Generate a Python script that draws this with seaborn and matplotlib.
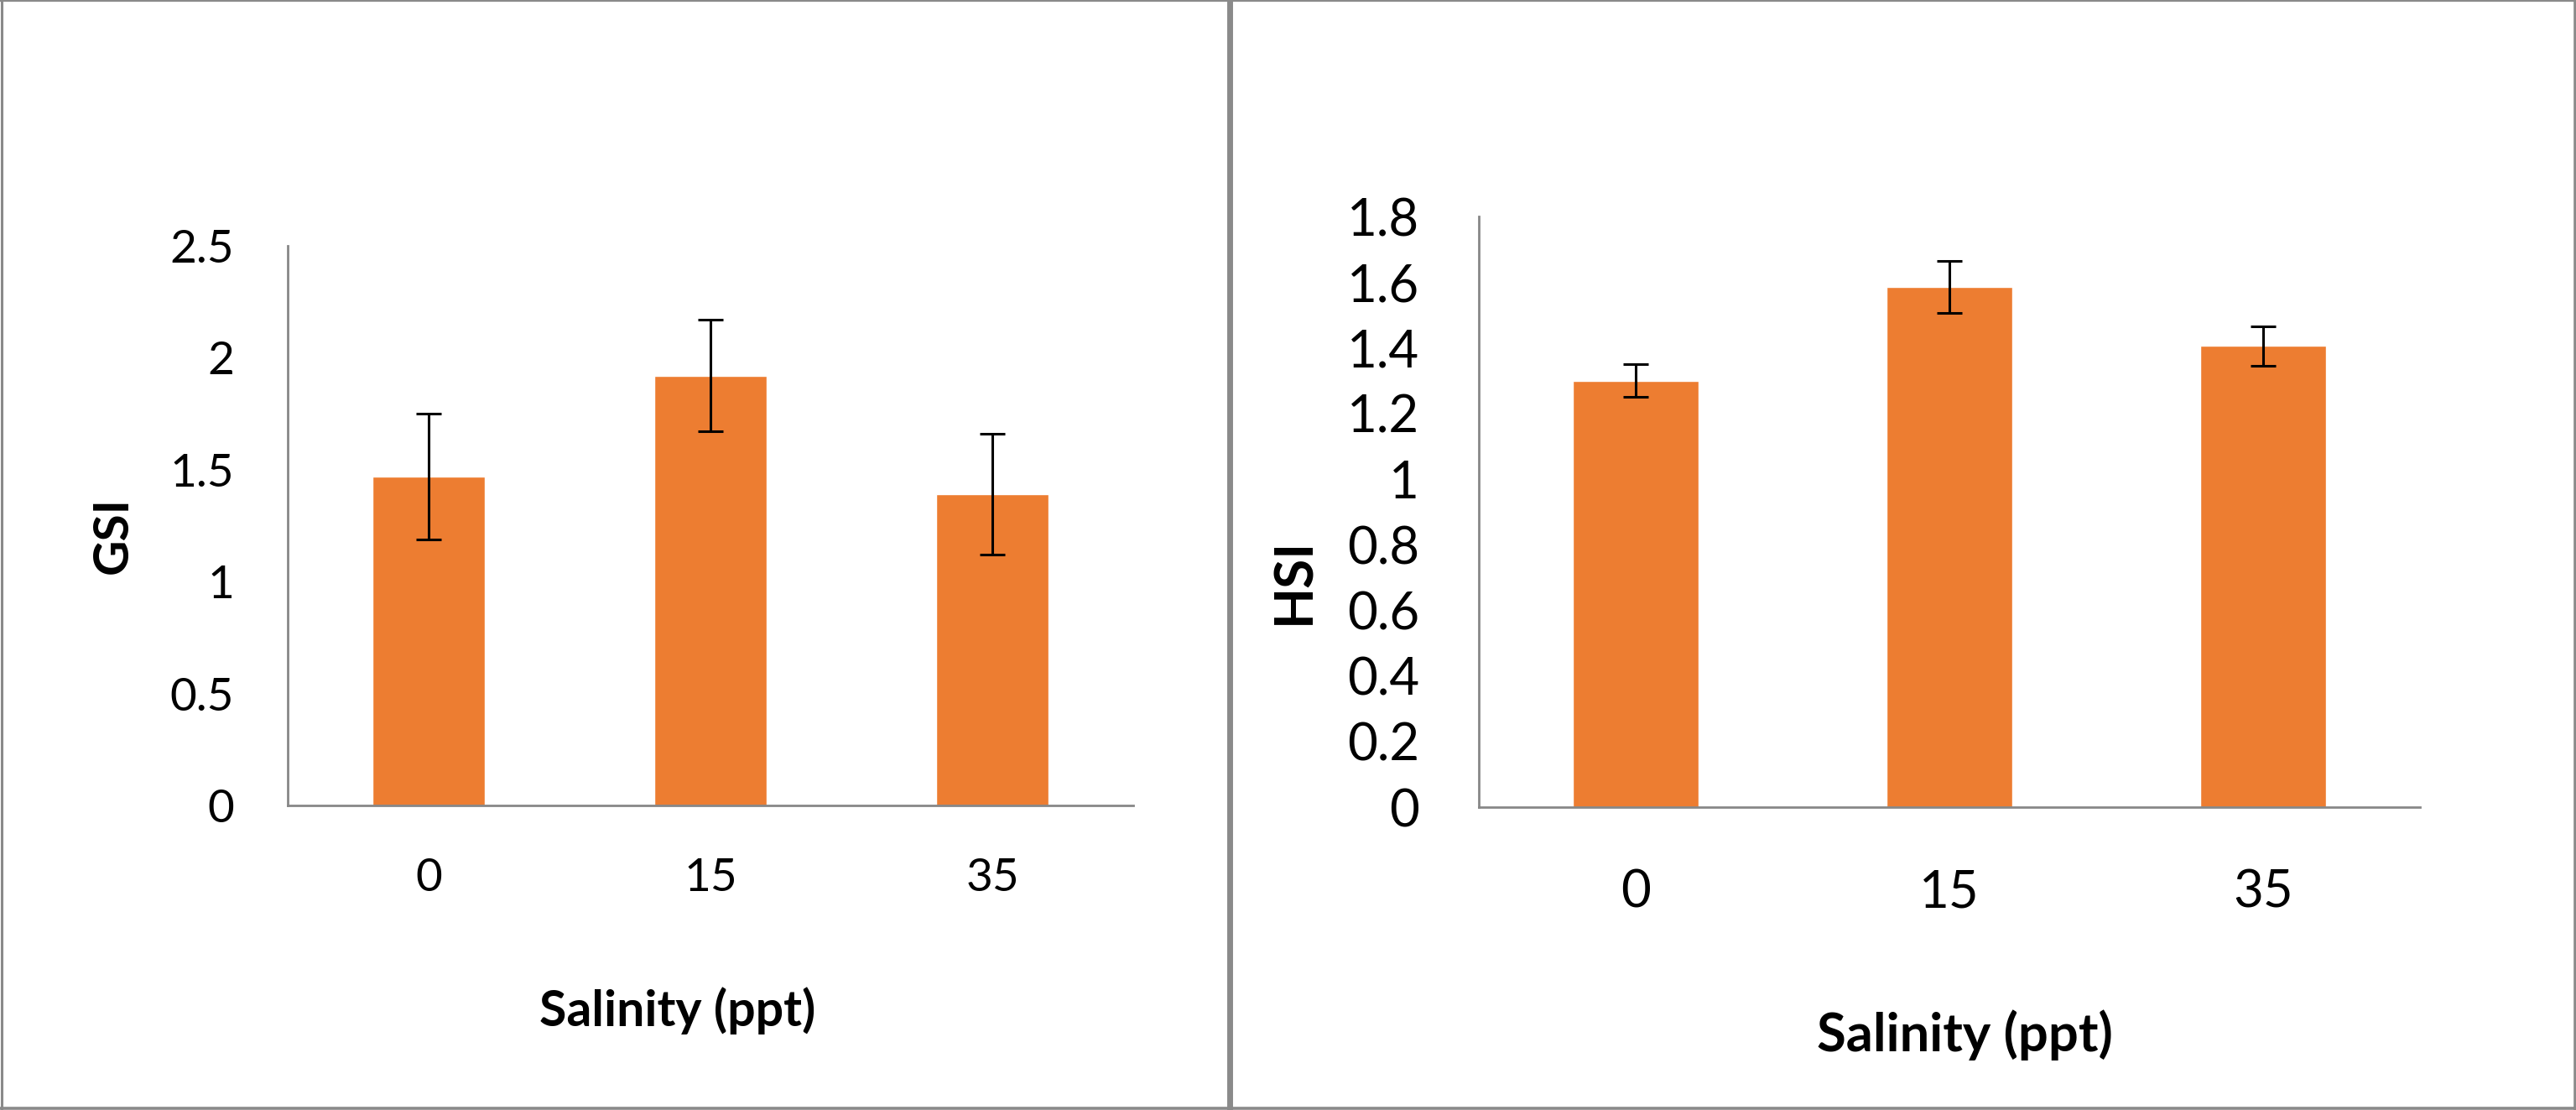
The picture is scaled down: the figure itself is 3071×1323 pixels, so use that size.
import numpy as np
import matplotlib
matplotlib.use("Agg")
import matplotlib.pyplot as plt
import seaborn as sns

# salinity groups and mean +/- error values
salinity = ["0", "15", "35"]
gsi = [1.47, 1.92, 1.39]
gsi_err = [0.28, 0.25, 0.27]
hsi = [1.30, 1.585, 1.405]
hsi_err = [0.05, 0.08, 0.06]

BAR_COLOR = "#ED7D31"
AXIS_GREY = "#878787"
FRAME_GREY = "#8a8a8a"

W, H = 3071, 1323


def fx(px):
    return px / W


def fy(py):
    return 1 - py / H


def draw_panel(ax, values, errors, ylabel, ymax, ystep, fs_tick, fs_label, fs_ylabel,
               ytick_pad, xtick_pad, tick_len, capsize, xlabel_pos, ylabel_pos):
    sns.barplot(x=salinity, y=values, order=salinity, color=BAR_COLOR, saturation=1,
                width=0.4, errorbar=None, ax=ax)
    ax.errorbar(np.arange(len(salinity)), values, yerr=errors, fmt="none",
                ecolor="black", elinewidth=2.2, capsize=capsize, capthick=2.2, zorder=3)

    ticks = np.round(np.arange(0, ymax + ystep / 2, ystep), 2)
    ax.set_xlim(-0.5, len(salinity) - 0.5)
    ax.set_ylim(0, ymax)
    ax.set_yticks(ticks)
    ax.set_yticklabels([f"{v:g}" for v in ticks])
    ax.set_xticks(np.arange(-0.5, len(salinity), 1.0), minor=True)

    for side in ["top", "right"]:
        ax.spines[side].set_visible(False)
    for side in ["left", "bottom"]:
        ax.spines[side].set_color(AXIS_GREY)
        ax.spines[side].set_linewidth(2.0)

    ax.tick_params(axis="y", which="major", direction="out", length=tick_len, width=2.0,
                   color=AXIS_GREY, labelcolor="black", labelsize=fs_tick, pad=ytick_pad)
    ax.tick_params(axis="x", which="major", length=0, labelcolor="black",
                   labelsize=fs_tick, pad=xtick_pad)
    ax.tick_params(axis="x", which="minor", direction="out", length=tick_len, width=2.0,
                   color=AXIS_GREY)

    ax.set_xlabel("Salinity (ppt)", fontsize=fs_label, fontweight="bold", color="black")
    ax.xaxis.set_label_coords(*xlabel_pos)
    ax.xaxis.label.set_va("baseline")
    ax.set_ylabel(ylabel, fontsize=fs_ylabel, fontweight="bold", color="black")
    ax.yaxis.set_label_coords(*ylabel_pos)
    ax.yaxis.label.set_va("center")
    ax.yaxis.label.set_ha("center")


sns.set_style("white")
plt.rcParams["font.family"] = ["Lato", "DejaVu Sans"]

fig = plt.figure(figsize=(W / 100, H / 100), dpi=100)

ax1 = fig.add_axes([fx(343), fy(960), fx(1351 - 343), (960 - 293) / H])
draw_panel(ax1, gsi, gsi_err, "GSI", 2.5, 0.5, 39.5, 42.5, 42,
           ytick_pad=31, xtick_pad=45, tick_len=15, capsize=11,
           xlabel_pos=(0.461, -0.394), ylabel_pos=(-0.206, 0.483))

ax2 = fig.add_axes([fx(1763), fy(962), fx(2885 - 1763), (962 - 258) / H])
draw_panel(ax2, hsi, hsi_err, "HSI", 1.8, 0.2, 44.5, 45.5, 46,
           ytick_pad=34, xtick_pad=53, tick_len=17, capsize=10.5,
           xlabel_pos=(0.5165, -0.413), ylabel_pos=(-0.196, 0.3835))

# grey frame around both chart boxes and the divider between them
frame = [
    ([fx(1.5), fx(1.5)], [0, 1], 2.2),
    ([fx(3069.5), fx(3069.5)], [0, 1], 2.6),
    ([0, 1], [fy(1), fy(1)], 1.6),
    ([0, 1], [fy(1320.5), fy(1320.5)], 2.6),
    ([fx(1465.5), fx(1465.5)], [0, 1], 5.0),
]
for xs, ys, lw in frame:
    fig.add_artist(plt.Line2D(xs, ys, transform=fig.transFigure, color=FRAME_GREY, linewidth=lw))

fig.savefig("out.png", dpi=100, facecolor="white")
